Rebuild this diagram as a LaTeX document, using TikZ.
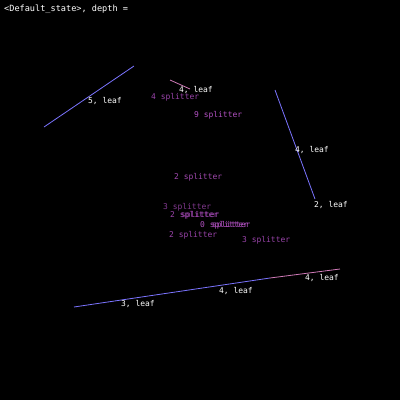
\documentclass[tikz,border=0pt]{standalone}
\usepackage{fontspec}
\setmonofont{DejaVu Sans Mono}
\begin{document}
\begin{tikzpicture}[x=1bp,y=-1bp,
  lbl/.style={font=\ttfamily\fontsize{8}{9}\selectfont, inner sep=0pt, anchor=west},
  leaf/.style={lbl, text=white},
  split/.style={lbl, text=splitc},
  blueline/.style={draw=blueL, line width=0.8bp},
  pinkline/.style={draw=pinkL, line width=0.8bp}]
\definecolor{blueL}{HTML}{7B74FF}
\definecolor{pinkL}{HTML}{D07AB8}
\definecolor{splitc}{HTML}{9A44AA}
\definecolor{splitb}{HTML}{B452C4}
\fill[black] (0,0) rectangle (400,400);
\useasboundingbox (0,0) rectangle (400,400);
\node[leaf, font=\ttfamily\fontsize{8.6}{10}\selectfont] (title) at (4,9) {<Default\_state>, depth =};
% line 1
\coordinate (a1) at (44,127); \coordinate (a2) at (134,66);
\draw[blueline] (a1) -- (a2);
\node[leaf] (l5) at (88,101) {5, leaf};
% short pink line
\coordinate (b1) at (170,80); \coordinate (b2) at (190,89);
\draw[pinkline] (b1) -- (b2);
\node[leaf] (l4a) at (179,90) {4, leaf};
\node[split] (s4) at (151,97) {4 splitter};
\node[split, text=splitb] (s9) at (194,115) {9 splitter};
% line 3
\coordinate (c1) at (275,90); \coordinate (c2) at (315,199);
\draw[blueline] (c1) -- (c2);
\node[leaf] (l4b) at (295,150) {4, leaf};
\node[leaf] (l2) at (314,205) {2, leaf};
% splitters in middle
\node[split, text=splitb!90!black] (s2a) at (174,177) {2 splitter};
\node[split, text=splitc!85!black] (s3a) at (163,207) {3 splitter};
\node[split] (s2b) at (170,215) {2 splitter};
\node[split] (s2c) at (176,215) {\phantom{2}splitter};
\node[split, text=splitb] (s0a) at (200,225) {0 splitter};
\node[split, text=splitb] (s0b) at (207,225) {\phantom{0}splitter};
\node[split] (s2d) at (169,235) {2 splitter};
\node[split] (s3b) at (242,240) {3 splitter};
% bottom line
\coordinate (d1) at (74,307); \coordinate (dm) at (270,278); \coordinate (d2) at (340,269);
\draw[blueline] (d1) -- (dm);
\draw[pinkline] (dm) -- (d2);
\node[leaf] (l3) at (121,304) {3, leaf};
\node[leaf] (l4c) at (219,291) {4, leaf};
\node[leaf] (l4d) at (305,278) {4, leaf};
\end{tikzpicture}
\end{document}
